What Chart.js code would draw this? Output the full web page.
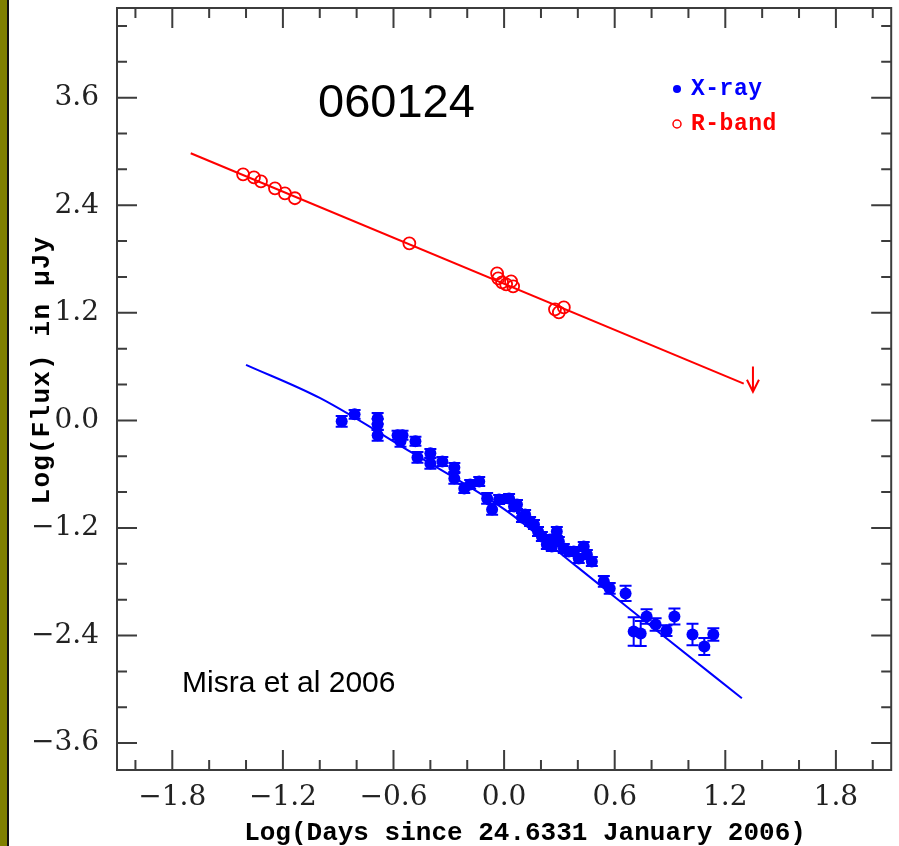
<!DOCTYPE html>
<html lang="en">
<head>
<meta charset="UTF-8">
<title>GRB 060124 light curve</title>
<script src="https://cdn.jsdelivr.net/npm/chart.js"></script>
<style>
  html, body { margin: 0; padding: 0; background: #fff; }
</style>
</head>
<body>
<canvas id="lc" width="899" height="846"></canvas>
<script>
// R-band points (open red circles)
const rbandX = [-1.416, -1.357, -1.319, -1.243, -1.189, -1.135, -0.514,
                -0.038, -0.032, -0.011, 0.011, 0.038, 0.049, 0.276, 0.297, 0.324];
const rbandY = [2.745, 2.71, 2.667, 2.589, 2.533, 2.478, 1.975,
                1.64, 1.585, 1.54, 1.518, 1.55, 1.495, 1.239, 1.205, 1.26];

// X-ray points (filled blue circles) with errors
const xrayX = [-0.881, -0.811, -0.686, -0.686, -0.686, -0.578, -0.551, -0.562, -0.481, -0.470,
               -0.400, -0.400, -0.335, -0.270, -0.270, -0.216, -0.184, -0.135, -0.092, -0.065,
               -0.027, 0.027, 0.054, 0.070, 0.097, 0.114, 0.141, 0.162, 0.184, 0.205,
               0.232, 0.249, 0.259, 0.286, 0.297, 0.324, 0.351, 0.378, 0.405, 0.432,
               0.449, 0.476, 0.541, 0.573, 0.659, 0.703, 0.741, 0.773, 0.822, 0.881,
               0.924, 1.022, 1.086, 1.135];
const xrayY = [-0.011, 0.067, 0.022, -0.045, -0.167, -0.167, -0.167, -0.234, -0.234, -0.413,
               -0.368, -0.480, -0.458, -0.525, -0.647, -0.759, -0.714, -0.681, -0.871, -0.993,
               -0.882, -0.871, -0.960, -0.938, -1.083, -1.049, -1.127, -1.161, -1.239, -1.295,
               -1.384, -1.328, -1.406, -1.239, -1.350, -1.429, -1.462, -1.462, -1.540, -1.406,
               -1.496, -1.574, -1.797, -1.875, -1.931, -2.355, -2.377, -2.188, -2.277, -2.344,
               -2.188, -2.388, -2.522, -2.388];
const xrayErr = [0.06, 0.05, 0.06, 0.06, 0.06, 0.05, 0.05, 0.06, 0.05, 0.06,
                 0.05, 0.06, 0.05, 0.05, 0.06, 0.05, 0.05, 0.05, 0.06, 0.06,
                 0.05, 0.05, 0.05, 0.05, 0.05, 0.05, 0.05, 0.05, 0.05, 0.05,
                 0.05, 0.05, 0.05, 0.05, 0.05, 0.05, 0.05, 0.05, 0.05, 0.05,
                 0.05, 0.05, 0.06, 0.06, 0.085, 0.16, 0.14, 0.08, 0.07, 0.06,
                 0.09, 0.12, 0.095, 0.07];

// fitted power laws
const rFitX = [-1.70, 1.30];
const rFitY = [2.98, 0.41];
const xFitX = [-1.40, -1.00, -0.50, 0.00, 0.40, 0.80, 1.29];
const xFitY = [0.62, 0.25, -0.36, -0.99, -1.64, -2.30, -3.10];

// R-band upper limit (arrow)
const limX = [1.35];
const limY = [0.60];
const limLen = [0.28];

const xTicks = [-1.8, -1.2, -0.6, 0, 0.6, 1.2, 1.8];
const yTicks = [-3.6, -2.4, -1.2, 0, 1.2, 2.4, 3.6];
const xMinor = [-2.0, -1.6, -1.4, -1.0, -0.8, -0.4, -0.2, 0.2, 0.4, 0.8, 1.0, 1.4, 1.6, 2.0];
const yMinor = [-3.2, -2.8, -2.0, -1.6, -0.8, -0.4, 0.4, 0.8, 1.6, 2.0, 2.8, 3.2, 4.0, 4.4];

const BLUE = '#0000ff';
const RED = '#ff0000';
const AXIS = '#3c3c3c';

const pts = (xs, ys) => xs.map((x, i) => ({ x: x, y: ys[i] }));
const fmt = v => (Math.abs(v) < 1e-9 ? '0.0' : v.toFixed(1).replace('-', '\u2212'));

// olive band on the left edge
const pageBg = {
  id: 'pageBg',
  beforeDraw(chart) {
    const c = chart.ctx;
    c.save();
    c.fillStyle = '#fff';
    c.fillRect(0, 0, chart.width, chart.height);
    c.fillStyle = '#808000';
    c.fillRect(0, 0, 7, chart.height);
    c.fillStyle = '#111';
    c.fillRect(7, 0, 2, chart.height);
    c.restore();
  }
};

// error bars under the x-ray markers
const errBars = {
  id: 'errBars',
  beforeDatasetsDraw(chart) {
    const c = chart.ctx, xs = chart.scales.x, ys = chart.scales.y;
    c.save();
    c.strokeStyle = BLUE;
    c.lineWidth = 2;
    xrayX.forEach((x, i) => {
      const px = xs.getPixelForValue(x);
      const top = ys.getPixelForValue(xrayY[i] + xrayErr[i]);
      const bot = ys.getPixelForValue(xrayY[i] - xrayErr[i]);
      c.beginPath();
      c.moveTo(px, top); c.lineTo(px, bot);
      c.moveTo(px - 6, top); c.lineTo(px + 6, top);
      c.moveTo(px - 6, bot); c.lineTo(px + 6, bot);
      c.stroke();
    });
    c.restore();
  }
};

// frame, inward ticks, arrow, labels
const frame = {
  id: 'frame',
  afterDraw(chart) {
    const c = chart.ctx, a = chart.chartArea, xs = chart.scales.x, ys = chart.scales.y;
    c.save();
    c.strokeStyle = AXIS;
    c.lineWidth = 2;
    c.strokeRect(a.left, a.top, a.right - a.left, a.bottom - a.top);
    c.beginPath();
    const tx = (v, len) => {
      const p = xs.getPixelForValue(v);
      c.moveTo(p, a.bottom); c.lineTo(p, a.bottom - len);
      c.moveTo(p, a.top); c.lineTo(p, a.top + len);
    };
    const ty = (v, len) => {
      const p = ys.getPixelForValue(v);
      c.moveTo(a.left, p); c.lineTo(a.left + len, p);
      c.moveTo(a.right, p); c.lineTo(a.right - len, p);
    };
    xTicks.forEach(v => tx(v, 20));
    xMinor.forEach(v => tx(v, 10));
    yTicks.forEach(v => ty(v, 20));
    yMinor.forEach(v => ty(v, 10));
    c.stroke();

    // upper limit arrow
    c.strokeStyle = RED;
    c.lineWidth = 2;
    limX.forEach((x, i) => {
      const px = xs.getPixelForValue(x);
      const y0 = ys.getPixelForValue(limY[i]);
      const y1 = ys.getPixelForValue(limY[i] - limLen[i]);
      c.beginPath();
      c.moveTo(px, y0); c.lineTo(px, y1);
      c.moveTo(px - 6, y1 - 12); c.lineTo(px, y1); c.lineTo(px + 6, y1 - 12);
      c.stroke();
    });

    // legend
    c.fillStyle = BLUE;
    c.beginPath(); c.arc(677, 89, 4, 0, Math.PI * 2); c.fill();
    c.strokeStyle = RED; c.lineWidth = 1.5;
    c.beginPath(); c.arc(677, 124, 4, 0, Math.PI * 2); c.stroke();
    c.font = 'bold 23px "Liberation Mono"';
    c.letterSpacing = '0.5px';
    c.textBaseline = 'middle';
    c.textAlign = 'left';
    c.fillStyle = BLUE;
    c.fillText('X-ray', 691, 89);
    c.fillStyle = RED;
    c.fillText('R-band', 691, 124);
    c.letterSpacing = '0px';

    // annotations
    c.fillStyle = '#000';
    c.textBaseline = 'alphabetic';
    c.font = '47px "Liberation Sans"';
    c.fillText('060124', 318, 117);
    c.font = '30px "Liberation Sans"';
    c.fillText('Misra et al 2006', 182, 692);

    // axis titles
    c.font = 'bold 26px "Liberation Mono"';
    c.textAlign = 'center';
    c.fillText('Log(Days since 24.6331 January 2006)', 525, 840);
    c.save();
    c.translate(49, 370);
    c.rotate(-Math.PI / 2);
    c.font = 'bold 26px "Liberation Mono"';
    c.letterSpacing = '1.2px';
    c.fillText('Log(Flux) in \u03bcJy', 0, 0);
    c.restore();
    c.restore();
  }
};

new Chart(document.getElementById('lc'), {
  type: 'scatter',
  data: {
    datasets: [
      { data: pts(rFitX, rFitY), showLine: true, borderColor: RED, borderWidth: 2,
        pointRadius: 0, fill: false },
      { data: pts(xFitX, xFitY), showLine: true, borderColor: BLUE, borderWidth: 2,
        pointRadius: 0, fill: false, tension: 0.4, cubicInterpolationMode: 'monotone' },
      { data: pts(rbandX, rbandY), pointRadius: 6, borderColor: RED, borderWidth: 1.8,
        backgroundColor: 'rgba(0,0,0,0)' },
      { data: pts(xrayX, xrayY), pointRadius: 6, borderWidth: 0, backgroundColor: BLUE,
        borderColor: BLUE }
    ]
  },
  options: {
    responsive: false,
    animation: false,
    devicePixelRatio: 1,
    layout: { padding: { top: 8, right: 6, left: 10, bottom: 0 } },
    plugins: { legend: { display: false }, tooltip: { enabled: false } },
    scales: {
      x: {
        type: 'linear', min: -2.1, max: 2.1,
        grid: { display: false, drawTicks: false },
        border: { display: false },
        afterBuildTicks: s => { s.ticks = xTicks.map(v => ({ value: v })); },
        afterFit: s => { s.height = 76; s.paddingLeft = 0; s.paddingRight = 0; },
        ticks: { callback: v => fmt(v), color: '#222', padding: 11,
                 font: { family: '"DejaVu Serif"', size: 28 }, maxRotation: 0, autoSkip: false }
      },
      y: {
        type: 'linear', min: -3.9, max: 4.6,
        grid: { display: false, drawTicks: false },
        border: { display: false },
        afterBuildTicks: s => { s.ticks = yTicks.map(v => ({ value: v })); },
        afterFit: s => { s.width = 107; s.paddingTop = 0; s.paddingBottom = 0; },
        ticks: { callback: v => fmt(v), color: '#222', padding: 18,
                 font: { family: '"DejaVu Serif"', size: 28 }, autoSkip: false }
      }
    }
  },
  plugins: [pageBg, errBars, frame]
});
</script>
</body>
</html>
